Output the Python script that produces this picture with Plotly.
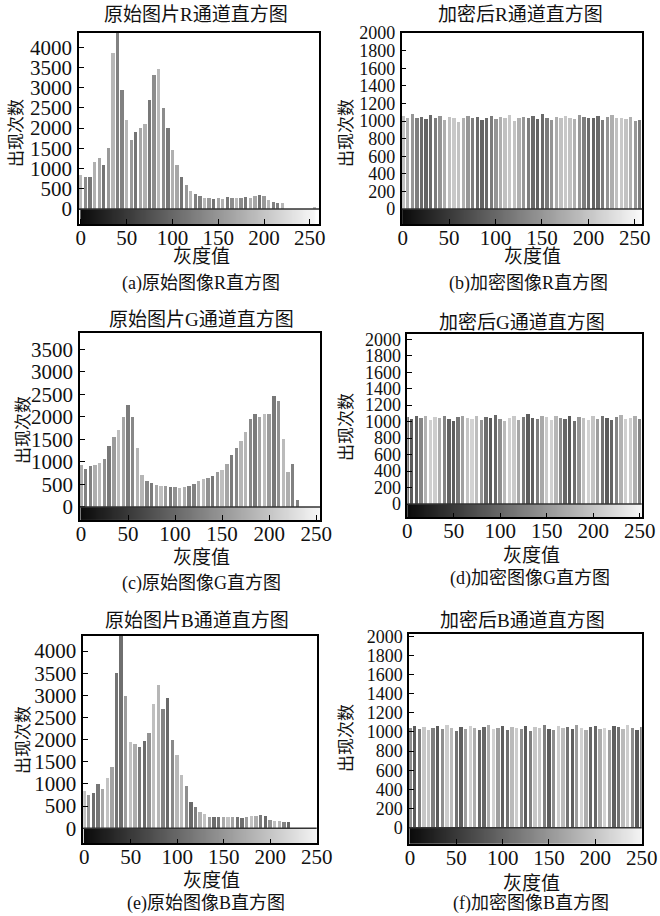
import math
import plotly.graph_objects as go

# ---------------- data ----------------
levels = list(range(0, 256, 5))          # grey-level bins (52)
gray_levels = list(range(256))           # colour strip under each histogram

r_orig = [850, 780, 800, 1150, 1250, 1100, 1500, 3850, 4400, 2950, 2200, 1700, 1900,
          2000, 2100, 2700, 3300, 3450, 2500, 2000, 1450, 1100, 800, 600, 450, 380,
          330, 280, 270, 260, 280, 260, 290, 270, 280, 270, 300, 280, 310, 350, 320, 220,
          180, 150, 160, 0, 0, 0, 0, 0, 0, 60]
r_enc = [1060, 1040, 1080, 1030, 1050, 1020, 1070, 1040, 1060, 1010, 1050, 1030, 990,
         1040, 1060, 1030, 1050, 1010, 1040, 1060, 1020, 1050, 1030, 1070, 1000, 1040,
         1050, 1030, 1060, 1020, 1080, 1040, 1010, 1050, 1030, 1060, 1040, 1020, 1070,
         1050, 1030, 1040, 1060, 1010, 1050, 1070, 1030, 1040, 1020, 1050, 1000, 1010]
g_orig = [930, 840, 900, 930, 960, 1050, 1350, 1550, 1700, 2000, 2250, 1990, 1300,
          700, 560, 520, 490, 470, 460, 440, 430, 425, 440, 470, 510, 570,
          620, 640, 690, 760, 820, 950, 1150, 1300, 1470, 1650, 1950, 2050, 2000,
          2050, 2050, 2450, 2350, 1500, 760, 950, 150, 0, 0, 0, 0, 0]
g_enc = [1050, 1030, 1060, 1040, 1070, 1020, 1050, 1040, 1060, 1030, 1010, 1050, 1060,
         1040, 1030, 1070, 1020, 1050, 1040, 1080, 1030, 1010, 1040, 1060, 1020, 1050,
         1090, 1040, 1030, 1060, 1050, 1020, 1070, 1040, 1030, 1060, 1010, 1050, 1040,
         1020, 1060, 1030, 1070, 1040, 1020, 1050, 1080, 1030, 1040, 1060, 1030, 1040]
b_orig = [850, 760, 800, 1000, 900, 1150, 1400, 3500, 4400, 3000, 1950, 1900, 1850,
          1980, 2150, 2800, 3250, 2700, 2950, 2000, 1650, 1200, 950, 600, 480, 380,
          320, 270, 260, 270, 260, 270, 250, 260, 240, 260, 280, 290, 300, 290, 200, 180,
          160, 140, 140, 0, 0, 0, 0, 0, 0, 30]
b_enc = [1040, 1060, 1030, 1050, 1020, 1040, 1060, 1030, 1070, 1040, 1010, 1050, 1030,
         1060, 1040, 1020, 1050, 1070, 1030, 1040, 1060, 1020, 1050, 1040, 1030, 1060,
         1010, 1050, 1040, 1070, 1030, 1020, 1060, 1040, 1050, 1030, 1070, 1040, 1020,
         1050, 1060, 1030, 1040, 1020, 1060, 1050, 1030, 1070, 1040, 1020, 1050, 1060]

titles = ["原始图片R通道直方图", "加密后R通道直方图",
          "原始图片G通道直方图", "加密后G通道直方图",
          "原始图片B通道直方图", "加密后B通道直方图"]
captions = ["(a)原始图像R直方图", "(b)加密图像R直方图",
            "(c)原始图像G直方图", "(d)加密图像G直方图",
            "(e)原始图像B直方图", "(f)加密图像B直方图"]
x_title = "灰度值"
y_title = "出现次数"
x_ticks = [0, 50, 100, 150, 200, 250]

series = [r_orig, r_enc, g_orig, g_enc, b_orig, b_enc]

# ---------------- layout (pixel geometry) ----------------
W, H = 660, 916
panels = [
    dict(box=(79, 319, 33, 224), xr=(-2, 260), yr=(-370, 4350), step=500, ymax=4000, fs=21,
         t=(196, 15), xl=(202, 257), cap=(201, 283), yt=(17, 133), per=17, ph=0.0, base=150, amp=35),
    dict(box=(401.7, 642.3, 33, 224), xr=(-1, 258), yr=(-170, 2000), step=200, ymax=2000, fs=18,
         t=(520, 15), xl=(532, 257), cap=(528, 283), yt=(347, 133), per=60, ph=0.5, base=150, amp=50),
    dict(box=(80, 320, 333.3, 520), xr=(-1, 254), yr=(-290, 3860), step=500, ymax=3500, fs=21,
         t=(202, 320), xl=(202, 557), cap=(202, 583), yt=(23, 430), per=22, ph=1.0, base=155, amp=35),
    dict(box=(407.3, 641.7, 334.3, 517.3), xr=(0, 252), yr=(-161, 2060), step=200, ymax=2000, fs=18,
         t=(522, 322), xl=(531, 555), cap=(530, 578), yt=(346, 427), per=42, ph=2.2, base=150, amp=60),
    dict(box=(83.3, 316.7, 635.7, 843.3), xr=(-1, 250), yr=(-340, 4346), step=500, ymax=4000, fs=21,
         t=(197, 620), xl=(211, 880), cap=(206, 903), yt=(23, 740), per=26, ph=0.3, base=150, amp=45),
    dict(box=(409, 641.7, 634.3, 844), xr=(-1, 250), yr=(-170, 2020), step=200, ymax=2000, fs=18,
         t=(522, 620), xl=(531, 883), cap=(531, 903), yt=(346, 738), per=24, ph=1.7, base=150, amp=60),
]

FONT = "Liberation Serif, Noto Sans CJK SC, serif"
fig = go.Figure()
annotations = []
shapes = []

def gray_hex(v):
    v = max(0, min(255, int(round(v))))
    return "#%02x%02x%02x" % (v, v, v)

for i, (p, vals) in enumerate(zip(panels, series)):
    k = "" if i == 0 else str(i + 1)
    xa, ya = "x" + k, "y" + k
    x0, x1, yt0, yt1 = p["box"]
    dom_x = [x0 / W, x1 / W]
    dom_y = [1 - yt1 / H, 1 - yt0 / H]

    colors = [gray_hex(p["base"] + p["amp"] * math.cos(2 * math.pi * lv / p["per"] + p["ph"]))
              for lv in levels]

    ymin = p["yr"][0]
    fig.add_trace(go.Heatmap(z=[gray_levels], x0=0, dx=1, y0=ymin / 2, dy=-ymin,
                             colorscale=[[0, "#0a0a0a"], [1, "#f8f8f8"]], zmin=0, zmax=255,
                             showscale=False, hoverinfo="skip", xaxis=xa, yaxis=ya))
    fig.add_trace(go.Bar(x=levels, y=vals, width=3.6, marker=dict(color=colors, line=dict(width=0)),
                         showlegend=False, xaxis=xa, yaxis=ya))

    yticks = list(range(0, p["ymax"] + 1, p["step"]))
    fig.layout["xaxis" + k] = dict(domain=dom_x, range=list(p["xr"]), anchor=ya, automargin=False,
                                   tickvals=x_ticks, ticks="inside", ticklen=5, tickcolor="black",
                                   showline=True, mirror=True, linecolor="black", linewidth=1.5,
                                   showgrid=False, zeroline=False, ticklabelstandoff=-6,
                                   tickfont=dict(family=FONT, size=21, color="#111"))
    fig.layout["yaxis" + k] = dict(domain=dom_y, range=list(p["yr"]), anchor=xa, automargin=False,
                                   tickvals=yticks, ticks="inside", ticklen=5, tickcolor="black",
                                   showline=True, mirror=True, linecolor="black", linewidth=1.5,
                                   showgrid=False, zeroline=False, ticklabelstandoff=1,
                                   tickfont=dict(family=FONT, size=p["fs"], color="#111"))
    shapes.append(dict(type="line", xref=xa + " domain", yref=ya, x0=0, x1=1, y0=0, y1=0,
                       line=dict(color="#333", width=1.5)))

    for txt, pos, size, ang in [(titles[i], p["t"], 19, 0), (x_title, p["xl"], 19, 0),
                                (captions[i], p["cap"], 18, 0), (y_title, p["yt"], 17, -90)]:
        annotations.append(dict(text=txt, x=pos[0] / W, y=1 - pos[1] / H, xref="paper", yref="paper",
                                showarrow=False, xanchor="center", yanchor="middle", textangle=ang,
                                font=dict(family=FONT, size=size, color="#111")))

fig.update_layout(width=W, height=H, margin=dict(l=0, r=0, t=0, b=0, autoexpand=False),
                  paper_bgcolor="white", plot_bgcolor="white", bargap=0,
                  showlegend=False, annotations=annotations, shapes=shapes)

fig.write_html("out.html", config={"displayModeBar": False},
               post_script="document.body.style.margin='0';document.body.style.padding='0';")
